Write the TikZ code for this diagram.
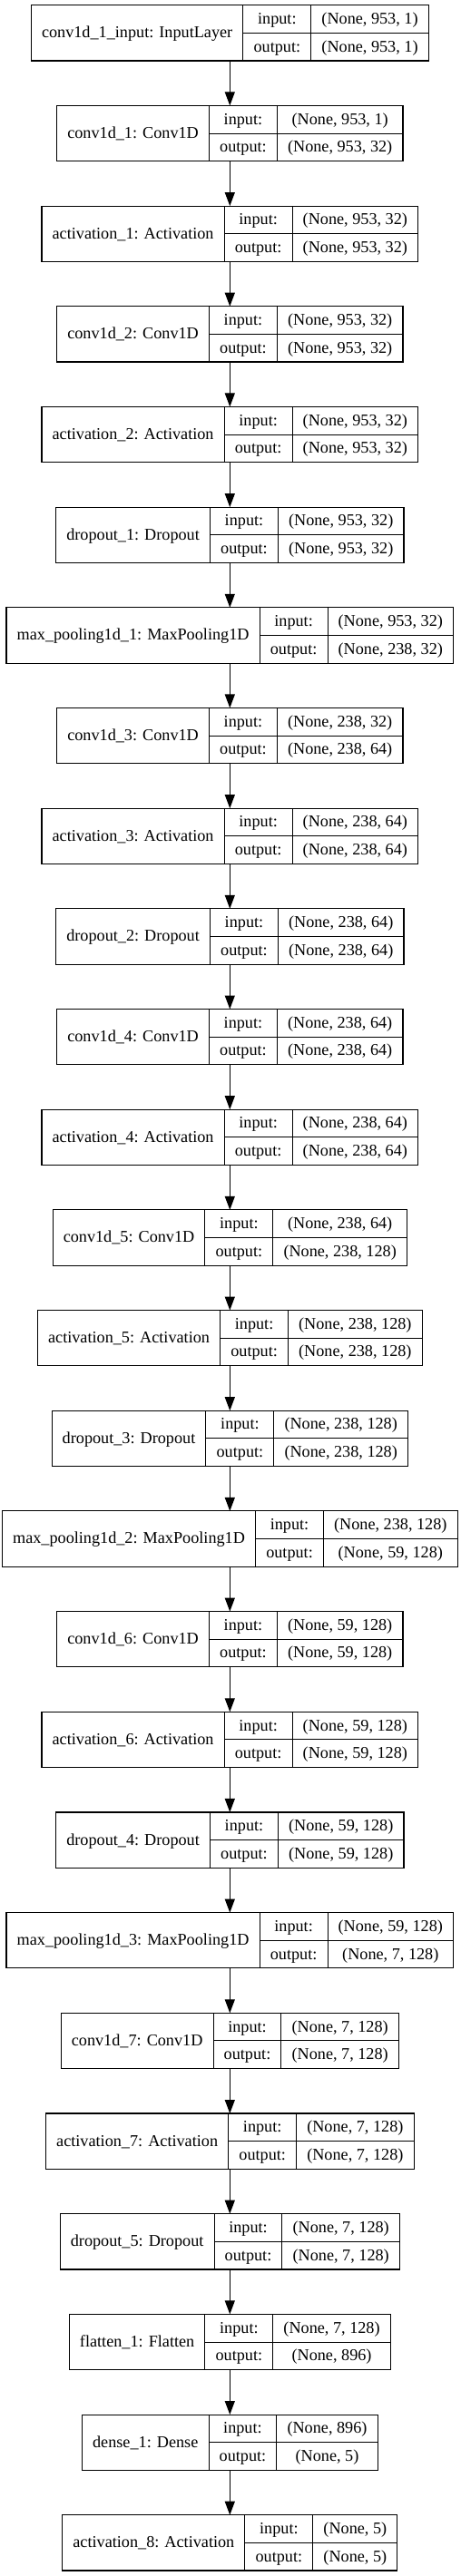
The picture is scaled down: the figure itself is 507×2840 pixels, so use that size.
\documentclass[tikz,border=0pt]{standalone}
\usepackage{fontspec}
\setmainfont{Liberation Serif}
\usetikzlibrary{arrows.meta}
\newcommand\lf{\fontsize{18.2}{21}\selectfont}
\newlength\LA \newlength\LB \newlength\LC \newlength\LD
\tikzset{
  box/.style={draw=black, line width=1.1pt, minimum height=61.3pt, inner sep=0pt, outer sep=0pt},
  sep/.style={draw=black, line width=1pt},
  txt/.style={font=\lf, anchor=base, inner sep=0pt, text=black},
  arr/.style={draw=black, line width=1.1pt, -{Triangle[length=15pt,width=11pt]}}
}
% measure texts outside the picture
\newcommand\measure[4]{%
  \settowidth\LA{\lf #2}\addtolength\LA{23.3pt}%
  \settowidth\LB{\lf output:}\addtolength\LB{23.3pt}%
  \settowidth\LC{\lf #3}\settowidth\LD{\lf #4}%
  \ifdim\LD>\LC \LC=\LD\fi \addtolength\LC{23.3pt}%
  \expandafter\xdef\csname WA#1\endcsname{\strip@pt\LA}%
  \expandafter\xdef\csname WB#1\endcsname{\strip@pt\LB}%
  \expandafter\xdef\csname WC#1\endcsname{\strip@pt\LC}%
  \expandafter\gdef\csname TL#1\endcsname{#2}%
  \expandafter\gdef\csname TI#1\endcsname{#3}%
  \expandafter\gdef\csname TO#1\endcsname{#4}%
}
\makeatletter
\renewcommand\measure[4]{%
  \settowidth\LA{\lf #2}\addtolength\LA{23.3pt}%
  \settowidth\LB{\lf output:}\addtolength\LB{23.3pt}%
  \settowidth\LC{\lf #3}\settowidth\LD{\lf #4}%
  \ifdim\LD>\LC \LC=\LD\fi \addtolength\LC{23.3pt}%
  \expandafter\xdef\csname WA#1\endcsname{\strip@pt\LA}%
  \expandafter\xdef\csname WB#1\endcsname{\strip@pt\LB}%
  \expandafter\xdef\csname WC#1\endcsname{\strip@pt\LC}%
  \expandafter\gdef\csname TL#1\endcsname{#2}%
  \expandafter\gdef\csname TI#1\endcsname{#3}%
  \expandafter\gdef\csname TO#1\endcsname{#4}%
}
\makeatother
\newcommand\drawlayer[1]{%
  \pgfmathsetmacro\Wa{\csname WA#1\endcsname}%
  \pgfmathsetmacro\Wb{\csname WB#1\endcsname}%
  \pgfmathsetmacro\Wc{\csname WC#1\endcsname}%
  \pgfmathsetmacro\Wd{\Wa+\Wb+\Wc}%
  \pgfmathsetmacro\Top{5.7+#1*110.68}%
  \pgfmathsetmacro\Bot{\Top+61.3}%
  \pgfmathsetmacro\Mid{\Top+30.65}%
  \pgfmathsetmacro\Xl{253.3-\Wd/2}%
  \pgfmathsetmacro\Xa{\Xl+\Wa}%
  \pgfmathsetmacro\Xb{\Xa+\Wb}%
  \pgfmathsetmacro\Xr{\Xl+\Wd}%
  \pgfmathsetmacro\Cl{(\Xl+\Xa)/2}%
  \pgfmathsetmacro\Cm{(\Xa+\Xb)/2}%
  \pgfmathsetmacro\Cr{(\Xb+\Xr)/2}%
  \pgfmathsetmacro\Bl{\Mid+5.4}%
  \pgfmathsetmacro\Bu{\Top+15.33+5.4}%
  \pgfmathsetmacro\Bd{\Mid+15.33+5.4}%
  \node[box, minimum width=\Wd pt, anchor=north] (L#1) at (253.3,\Top) {};
  \draw[sep] (\Xa,\Top) -- (\Xa,\Bot) (\Xb,\Top) -- (\Xb,\Bot) (\Xa,\Mid) -- (\Xr,\Mid);
  \node[txt] (L#1n) at (\Cl,\Bl) {\csname TL#1\endcsname};
  \node[txt] (L#1i) at (\Cm,\Bu) {input:};
  \node[txt] (L#1o) at (\Cm,\Bd) {output:};
  \node[txt] (L#1a) at (\Cr,\Bu) {\csname TI#1\endcsname};
  \node[txt] (L#1b) at (\Cr,\Bd) {\csname TO#1\endcsname};
}
\begin{document}%
\measure{0}{conv1d\_1\_input: InputLayer}{(None, 953, 1)}{(None, 953, 1)}%
\measure{1}{conv1d\_1: Conv1D}{(None, 953, 1)}{(None, 953, 32)}%
\measure{2}{activation\_1: Activation}{(None, 953, 32)}{(None, 953, 32)}%
\measure{3}{conv1d\_2: Conv1D}{(None, 953, 32)}{(None, 953, 32)}%
\measure{4}{activation\_2: Activation}{(None, 953, 32)}{(None, 953, 32)}%
\measure{5}{dropout\_1: Dropout}{(None, 953, 32)}{(None, 953, 32)}%
\measure{6}{max\_pooling1d\_1: MaxPooling1D}{(None, 953, 32)}{(None, 238, 32)}%
\measure{7}{conv1d\_3: Conv1D}{(None, 238, 32)}{(None, 238, 64)}%
\measure{8}{activation\_3: Activation}{(None, 238, 64)}{(None, 238, 64)}%
\measure{9}{dropout\_2: Dropout}{(None, 238, 64)}{(None, 238, 64)}%
\measure{10}{conv1d\_4: Conv1D}{(None, 238, 64)}{(None, 238, 64)}%
\measure{11}{activation\_4: Activation}{(None, 238, 64)}{(None, 238, 64)}%
\measure{12}{conv1d\_5: Conv1D}{(None, 238, 64)}{(None, 238, 128)}%
\measure{13}{activation\_5: Activation}{(None, 238, 128)}{(None, 238, 128)}%
\measure{14}{dropout\_3: Dropout}{(None, 238, 128)}{(None, 238, 128)}%
\measure{15}{max\_pooling1d\_2: MaxPooling1D}{(None, 238, 128)}{(None, 59, 128)}%
\measure{16}{conv1d\_6: Conv1D}{(None, 59, 128)}{(None, 59, 128)}%
\measure{17}{activation\_6: Activation}{(None, 59, 128)}{(None, 59, 128)}%
\measure{18}{dropout\_4: Dropout}{(None, 59, 128)}{(None, 59, 128)}%
\measure{19}{max\_pooling1d\_3: MaxPooling1D}{(None, 59, 128)}{(None, 7, 128)}%
\measure{20}{conv1d\_7: Conv1D}{(None, 7, 128)}{(None, 7, 128)}%
\measure{21}{activation\_7: Activation}{(None, 7, 128)}{(None, 7, 128)}%
\measure{22}{dropout\_5: Dropout}{(None, 7, 128)}{(None, 7, 128)}%
\measure{23}{flatten\_1: Flatten}{(None, 7, 128)}{(None, 896)}%
\measure{24}{dense\_1: Dense}{(None, 896)}{(None, 5)}%
\measure{25}{activation\_8: Activation}{(None, 5)}{(None, 5)}%
\begin{tikzpicture}[x=1pt,y=-1pt]
\useasboundingbox[fill=white] (0,0) rectangle (507,2840);
\foreach \k in {0,...,25}{\drawlayer{\k}}
\foreach \i [evaluate=\i as \j using int(\i+1)] in {0,...,24}
  \draw[arr] (L\i.south) -- (L\j.north);
\end{tikzpicture}
\end{document}
